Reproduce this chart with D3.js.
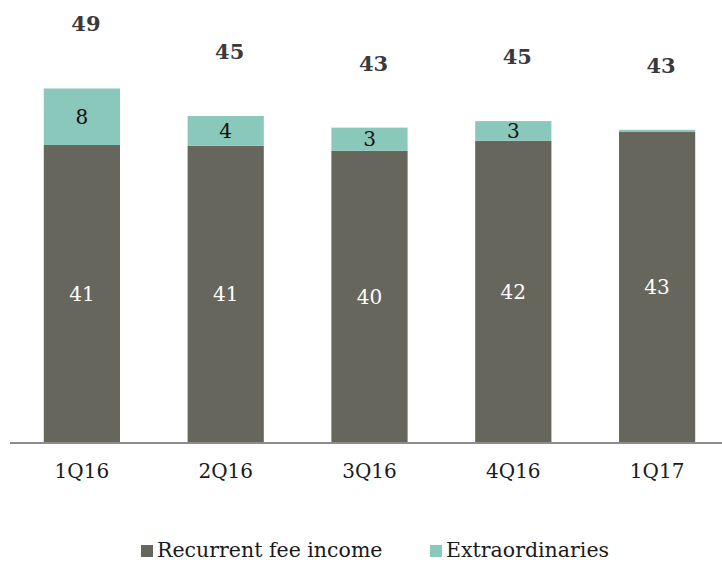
<!DOCTYPE html>
<html>
<head>
<meta charset="utf-8">
<script src="https://cdnjs.cloudflare.com/ajax/libs/d3/7.8.5/d3.min.js"></script>
<style>
  body { margin: 0; background: #fff; }
  text { font-family: "DejaVu Serif", serif; }
</style>
</head>
<body>
<div id="chart"></div>
<script>
var quarters = ["1Q16", "2Q16", "3Q16", "4Q16", "1Q17"];
var recurrent = [41.1, 41.0, 40.3, 41.7, 42.9];
var extraordinaries = [7.8, 4.1, 3.2, 2.7, 0.3];
var totals = [49, 45, 43, 45, 43];
var seriesNames = ["Recurrent fee income", "Extraordinaries"];

var width = 722, height = 562;
var baseY = 443;
var gray = "#66665d", teal = "#89c8bb";

var svg = d3.select("#chart").append("svg")
    .attr("width", width).attr("height", height);

var x = d3.scaleBand().domain(quarters).range([10, 729])
    .paddingInner(0.47).paddingOuter(0.235);
var y = d3.scaleLinear().domain([0, 60]).range([baseY, 8]);

var rows = quarters.map(function(q, i){
    return {q: q, rec: recurrent[i], ext: extraordinaries[i], total: totals[i]};
});

var gBars = svg.append("g");
// recurrent part
gBars.selectAll("rect.rec").data(rows).enter().append("rect")
    .attr("class", "rec")
    .attr("x", function(d){ return x(d.q); })
    .attr("width", x.bandwidth())
    .attr("y", function(d){ return y(d.rec); })
    .attr("height", function(d){ return y(0) - y(d.rec); })
    .style("fill", gray);
// extraordinaries on top
gBars.selectAll("rect.ext").data(rows).enter().append("rect")
    .attr("class", "ext")
    .attr("x", function(d){ return x(d.q); })
    .attr("width", x.bandwidth())
    .attr("y", function(d){ return y(d.rec + d.ext); })
    .attr("height", function(d){ return y(d.rec) - y(d.rec + d.ext); })
    .style("fill", teal);

// labels inside bars
svg.selectAll("text.recLabel").data(rows).enter().append("text")
    .attr("class", "recLabel")
    .attr("x", function(d){ return x(d.q) + x.bandwidth()/2; })
    .attr("y", function(d){ return (y(0) + y(d.rec))/2; })
    .attr("dy", "0.35em")
    .attr("text-anchor", "middle")
    .style("font-size", "20px").style("fill", "#fff")
    .text(function(d){ return Math.round(d.rec); });

svg.selectAll("text.extLabel").data(rows.filter(function(d){ return d.ext >= 1; }))
    .enter().append("text")
    .attr("class", "extLabel")
    .attr("x", function(d){ return x(d.q) + x.bandwidth()/2; })
    .attr("y", function(d){ return (y(d.rec) + y(d.rec + d.ext))/2; })
    .attr("dy", "0.35em")
    .attr("text-anchor", "middle")
    .style("font-size", "20px").style("fill", "#111")
    .text(function(d){ return Math.round(d.ext); });

// totals above
svg.selectAll("text.total").data(rows).enter().append("text")
    .attr("class", "total")
    .attr("x", function(d){ return x(d.q) + x.bandwidth()/2 + 4; })
    .attr("y", function(d){ return y(d.rec + d.ext) - 57; })
    .attr("text-anchor", "middle")
    .style("font-size", "21px").style("font-weight", "bold").style("fill", "#3a3a3a")
    .text(function(d){ return d.total; });

// x axis
var xAxis = svg.append("g").attr("transform", "translate(0," + baseY + ")")
    .call(d3.axisBottom(x).tickSize(0));
xAxis.select(".domain").remove();
xAxis.selectAll("text")
    .attr("y", 35).attr("dy", 0)
    .style("font-family", "DejaVu Serif, serif")
    .style("font-size", "20px").style("fill", "#1a1a1a");
svg.append("line")
    .attr("x1", 10).attr("x2", width)
    .attr("y1", baseY).attr("y2", baseY)
    .style("stroke", "#8c8c8c").style("stroke-width", 2);

// legend
var legendX = [141, 430];
var legend = svg.selectAll("g.legend").data(seriesNames).enter().append("g")
    .attr("class", "legend")
    .attr("transform", function(d, i){ return "translate(" + legendX[i] + ",545)"; });
legend.append("rect").attr("width", 12).attr("height", 12)
    .style("fill", function(d, i){ return i == 0 ? gray : teal; });
legend.append("text").attr("x", 16).attr("y", 12)
    .style("font-size", "20.5px").style("fill", "#1a1a1a")
    .text(function(d){ return d; });
</script>
</body>
</html>
